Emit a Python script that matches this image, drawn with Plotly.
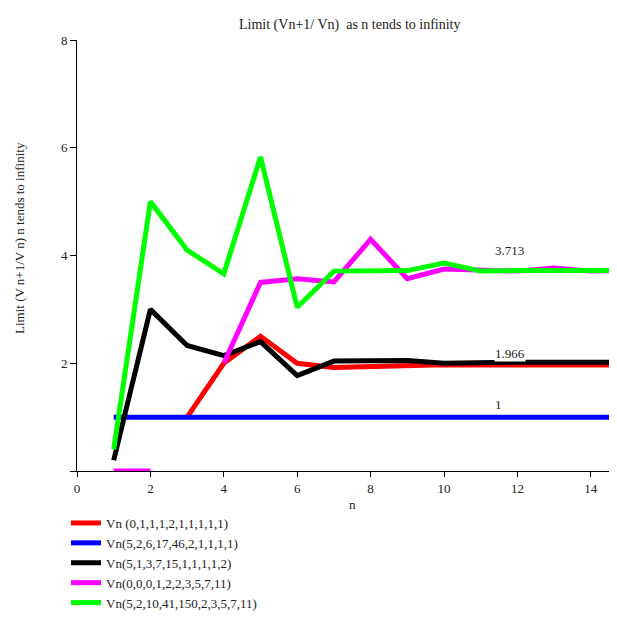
import plotly.graph_objects as go

n = list(range(1, 16))
red = [None, None, 1, 2, 2.5, 2.0, 1.92, 1.94, 1.97, 1.97, 1.966, 1.966, 1.966, 1.966, 1.966]
blue = [1] * 15
black = [0.2, 3, 2.33, 2.14, 2.4, 1.77, 2.04, 2.04, 2.05, 2.0, 2.02, 2.02, 2.02, 2.02, 2.02]
magenta = [0, 0, None, 2, 3.5, 3.57, 3.51, 4.3, 3.57, 3.75, 3.72, 3.71, 3.77, 3.71, 3.72]
green = [0.4, 5, 4.1, 3.66, 5.83, 3.04, 3.71, 3.72, 3.72, 3.86, 3.71, 3.72, 3.72, 3.72, 3.72]

names = ["Vn (0,1,1,1,2,1,1,1,1,1)", "Vn(5,2,6,17,46,2,1,1,1,1)", "Vn(5,1,3,7,15,1,1,1,1,2)",
         "Vn(0,0,0,1,2,2,3,5,7,11)", "Vn(5,2,10,41,150,2,3,5,7,11)"]
series = [red, blue, black, magenta, green]
colors = ["#ff0000", "#0000ff", "#000000", "#ff00ff", "#00ff00"]

xticks = [0, 2, 4, 6, 8, 10, 12, 14]
yticks = [0, 2, 4, 6, 8]
yticktext = ["", "2", "4", "6", "8"]

labels = [(11.35, 3.713, "3.713", 0, 12), (11.35, 1.966, "1.966", 1, 3), (11.35, 1, "1", 1, 4)]

FONT = "Liberation Serif"
OFF = 8  # page body margin
W, H = 601, 607
PL, PT, PH = 77 - OFF, 40 - OFF, 431
PW = W - PL
XMAX = PW / 36.7


def py(screen_y):
    return (PT + PH - (screen_y - OFF)) / PH


def px(screen_x):
    return (screen_x - OFF - PL) / PW


fig = go.Figure()
for name, ys, c in zip(names, series, colors):
    fig.add_trace(go.Scatter(x=n, y=ys, mode="lines", name=name,
                             line=dict(color=c, width=5), connectgaps=False))

for xv, yv, t, bg, ys in labels:
    fig.add_annotation(x=xv, y=yv, text=t, showarrow=False, yanchor="bottom", yshift=ys,
                       xanchor="left", font=dict(family=FONT, size=13, color="#222"),
                       bgcolor="white" if bg else "rgba(0,0,0,0)", borderpad=0)

fig.add_annotation(xref="paper", yref="paper", x=px(20), y=py(238),
                   text="Limit (V n+1/V n) n tends to infinity", textangle=-90,
                   showarrow=False, xanchor="center", yanchor="middle",
                   font=dict(family=FONT, size=13, color="#222"))
fig.add_annotation(xref="paper", yref="paper", x=px(352), y=py(505),
                   text="n", showarrow=False, xanchor="center", yanchor="middle",
                   font=dict(family=FONT, size=13, color="#222"))
fig.add_annotation(xref="paper", yref="paper", x=px(350), y=py(25),
                   text="Limit (Vn+1/ Vn)  as n tends to infinity", showarrow=False,
                   xanchor="center", yanchor="middle",
                   font=dict(family=FONT, size=14, color="#222"))

fig.update_layout(
    width=W, height=H,
    margin=dict(l=PL, r=0, t=PT, b=H - PT - PH, autoexpand=False),
    paper_bgcolor="white", plot_bgcolor="white",
    font=dict(family=FONT, size=13, color="#222"),
    showlegend=True,
    legend=dict(xref="container", yref="container", x=(66 - OFF) / W, y=1 - (508 - OFF) / H,
                xanchor="left", yanchor="top",
                bgcolor="rgba(0,0,0,0)", font=dict(family=FONT, size=13, color="#222"),
                tracegroupgap=0),
    xaxis=dict(range=[0, XMAX], tickvals=xticks, showgrid=False, zeroline=False,
               showline=True, linecolor="black", linewidth=1, ticks="outside",
               ticklen=5, tickcolor="black", tickfont=dict(family=FONT, size=13, color="#222")),
    yaxis=dict(range=[0, 8], tickvals=yticks, ticktext=yticktext, showgrid=False,
               zeroline=False, showline=True, linecolor="black", linewidth=1,
               ticks="outside", ticklen=6, tickcolor="black",
               tickfont=dict(family=FONT, size=13, color="#222")),
)

fig.write_html("out.html")
